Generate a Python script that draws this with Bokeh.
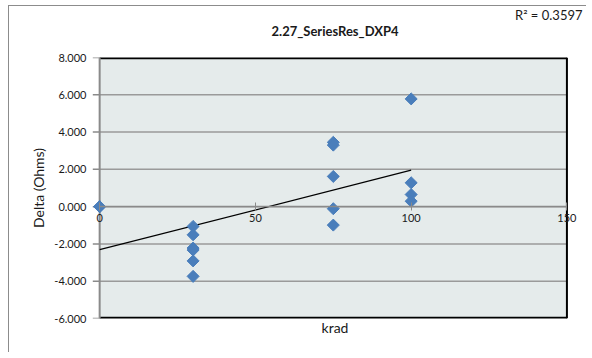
import numpy as np
from bokeh.plotting import figure
from bokeh.models import (Range1d, FixedTicker, NumeralTickFormatter, ColumnDataSource,
                          LinearAxis, Title)
from bokeh.embed import file_html
from bokeh.resources import INLINE

# data (two overlapping points at 0 krad)
krad = [0, 0, 30, 30, 30, 30, 30, 30, 75, 75, 75, 75, 75, 100, 100, 100, 100]
delta = [0.0, 0.0, -1.06, -1.51, -2.22, -2.33, -2.91, -3.74,
         3.45, 3.30, 1.62, -0.11, -0.99, 5.78, 1.28, 0.65, 0.29]
x_ticks = [0, 50, 100, 150]
y_ticks = [-6, -4, -2, 0, 2, 4, 6, 8]
title_text = "2.27_SeriesRes_DXP4"
r2_text = "R² = 0.3597"

FONT = "Lato"
TXT = "#1a1a1a"
GRID = "#9a9a9a"
AX = "#8a8a8a"

XMIN, XMAX = x_ticks[0], x_ticks[-1]
YMIN, YMAX = y_ticks[0], y_ticks[-1]

p = figure(frame_width=495, frame_height=261, output_backend="svg", toolbar_location=None,
           x_range=Range1d(-3.9, 155), y_range=Range1d(YMIN, YMAX),
           min_border_left=78, min_border_right=4, min_border_top=51, min_border_bottom=34)
p.styles = {"margin-left": "8px", "margin-top": "5px",
            "border-top": "1px solid #8c8c8c", "border-left": "1px solid #8c8c8c"}

p.background_fill_color = "white"
p.border_fill_color = "white"
p.outline_line_color = None
p.grid.visible = False

# plot area
p.quad(left=XMIN, right=XMAX, bottom=YMIN, top=YMAX, fill_color="#E5EBEB", line_color=None)
inner = [t for t in y_ticks if YMIN < t < YMAX]
p.segment(x0=[XMIN] * len(inner), x1=[XMAX] * len(inner), y0=inner, y1=inner,
          line_color=GRID, line_width=1.5)
# y tick marks (outside, to the left)
p.segment(x0=[XMIN - 2.2] * len(y_ticks), x1=[XMIN] * len(y_ticks), y0=y_ticks, y1=y_ticks,
          line_color=AX, line_width=1.5)
# borders: top, bottom, right in black; left = y axis line in gray
p.segment(x0=[XMIN, XMIN], x1=[XMAX, XMAX], y0=[YMAX, YMIN], y1=[YMAX, YMIN],
          line_color="black", line_width=3.5)
p.segment(x0=[XMAX], x1=[XMAX], y0=[YMIN], y1=[YMAX], line_color="black", line_width=2)
p.segment(x0=[XMIN], x1=[XMIN], y0=[YMIN], y1=[YMAX], line_color=AX, line_width=2)

# x axis crossing at y=0
xa = p.xaxis[0]
xa.ticker = FixedTicker(ticks=x_ticks)
xa.fixed_location = 0
xa.bounds = (XMIN, XMAX)
xa.axis_line_color = AX
xa.axis_line_width = 1.5
xa.major_tick_line_color = AX
xa.major_tick_in = 4
xa.major_tick_out = 4
xa.minor_tick_line_color = None
xa.major_label_text_font = FONT
xa.major_label_text_font_size = "11px"
xa.major_label_text_color = TXT
xa.major_label_standoff = 3

# label-only axis for "krad"
kax = LinearAxis(ticker=FixedTicker(ticks=[]), axis_label="krad",
                 axis_line_color=None, major_tick_line_color=None, minor_tick_line_color=None,
                 major_tick_in=0, major_tick_out=0,
                 major_label_text_font_size="0px",
                 axis_label_text_font=FONT, axis_label_text_font_size="14px",
                 axis_label_text_font_style="normal", axis_label_text_color=TXT,
                 axis_label_standoff=0)
p.add_layout(kax, "below")

ya = p.yaxis[0]
ya.ticker = FixedTicker(ticks=y_ticks)
ya.formatter = NumeralTickFormatter(format="0.000")
ya.axis_line_color = None
ya.major_tick_line_color = None
ya.major_tick_in = 0
ya.major_tick_out = 0
ya.minor_tick_line_color = None
ya.major_label_text_font = FONT
ya.major_label_text_font_size = "11px"
ya.major_label_text_color = TXT
ya.major_label_standoff = 1
ya.axis_label = "Delta (Ohms)"
ya.axis_label_text_font = FONT
ya.axis_label_text_font_style = "normal"
ya.axis_label_text_font_size = "14px"
ya.axis_label_text_color = TXT
ya.axis_label_standoff = 4

# titles: R² outermost (top right), chart title below it, then a blank spacer
p.title.text = r2_text
p.title.align = "right"
p.title.offset = 0
p.title.text_font = FONT
p.title.text_font_size = "13px"
p.title.text_font_style = "normal"
p.title.text_color = TXT
p.title.standoff = -4
p.add_layout(Title(text=" ", standoff=0, text_font=FONT, text_font_size="14px"), "above")
p.add_layout(Title(text=title_text, align="center", offset=-37, text_font=FONT,
                   text_font_size="13px", text_font_style="bold", text_color=TXT,
                   standoff=0), "above")

# trendline from least squares fit of the data
k, b = np.polyfit(krad, delta, 1)
tx = [min(krad), max(krad)]
p.line(tx, [k * v + b for v in tx], line_color="black", line_width=1.2)

src = ColumnDataSource(dict(x=krad, y=delta))
p.scatter("x", "y", source=src, marker="square", angle=np.pi / 4, size=8.5,
          fill_color="#4A7EBB", line_color="#4A7EBB")

open("out.html", "w").write(file_html(p, INLINE))
